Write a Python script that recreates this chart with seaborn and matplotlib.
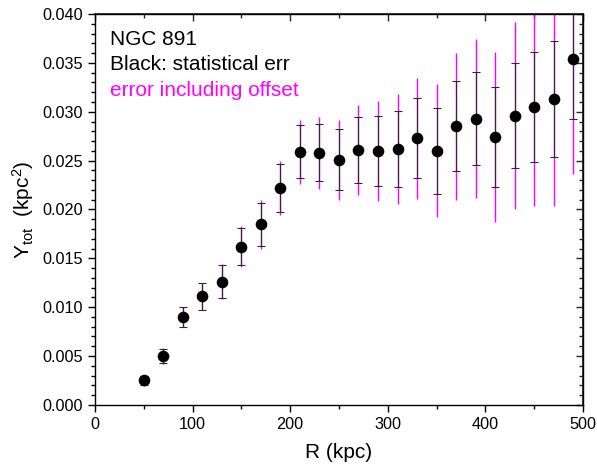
import numpy as np
import matplotlib
matplotlib.use('Agg')
import matplotlib.pyplot as plt
import seaborn as sns
from matplotlib.ticker import MultipleLocator, FormatStrFormatter

# -------------------------------------------------------------
# DATA  (NGC 891, Y_tot profile)
# -------------------------------------------------------------
r_kpc = [50, 70, 90, 110, 130, 150, 170, 190, 210, 230, 250, 270,
         290, 310, 330, 350, 370, 390, 410, 430, 450, 470, 490]
y_tot = [0.0025, 0.0050, 0.0090, 0.0111, 0.0126, 0.0162, 0.0185, 0.0222,
         0.0259, 0.0258, 0.0251, 0.0261, 0.0260, 0.0262, 0.0273, 0.0260,
         0.0285, 0.0293, 0.0274, 0.0296, 0.0305, 0.0313, 0.0354]
err_stat = [0.0005, 0.00075, 0.0010, 0.00135, 0.0017, 0.0019, 0.0022, 0.0025,
            0.0027, 0.0029, 0.0031, 0.0034, 0.0036, 0.0039, 0.0041, 0.0044,
            0.0046, 0.0048, 0.0051, 0.0054, 0.0056, 0.0059, 0.0061]
err_total = [0.00055, 0.0008, 0.00105, 0.0014, 0.0018, 0.0021, 0.0025, 0.0028,
             0.0033, 0.0037, 0.0041, 0.0046, 0.0051, 0.0056, 0.0062, 0.0068,
             0.0075, 0.0081, 0.0087, 0.0096, 0.0102, 0.0110, 0.0118]

# -------------------------------------------------------------
# VISUAL CONFIG
# -------------------------------------------------------------
sns.set_theme(style='ticks')
plt.rcParams['font.family'] = ['Liberation Sans', 'DejaVu Sans']
plt.rcParams['mathtext.default'] = 'regular'

fig = plt.figure(figsize=(5.97, 4.68), dpi=100)
ax = fig.add_axes([0.159, 0.135, 0.8175, 0.835])

# total error (magenta, behind)
ax.errorbar(r_kpc, y_tot, yerr=err_total, fmt='none', ecolor='#ff00ff',
            elinewidth=1.0, capsize=0, zorder=1)
# statistical error (black, with caps)
ax.errorbar(r_kpc, y_tot, yerr=err_stat, fmt='none', ecolor='#2a2a2a',
            elinewidth=0.8, capsize=3, capthick=0.8, zorder=2)
sns.scatterplot(x=r_kpc, y=y_tot, ax=ax, color='black', s=70,
                edgecolor='black', linewidth=0, zorder=3)

ax.set_xlim(0, 500)
ax.set_ylim(0, 0.040)
ax.xaxis.set_major_locator(MultipleLocator(100))
ax.xaxis.set_minor_locator(MultipleLocator(50))
ax.yaxis.set_major_locator(MultipleLocator(0.005))
ax.yaxis.set_minor_locator(MultipleLocator(0.001))
ax.yaxis.set_major_formatter(FormatStrFormatter('%.3f'))

for s in ax.spines.values():
    s.set_linewidth(1.0)
    s.set_color('black')

ax.tick_params(which='both', direction='out', top=False, right=False,
               labelsize=11.7, colors='black', width=1.0)
ax.tick_params(which='major', length=5)
ax.tick_params(which='minor', length=3)

# inward ticks on top and right, no labels
ax_t = ax.secondary_xaxis('top')
ax_t.xaxis.set_major_locator(MultipleLocator(100))
ax_t.xaxis.set_minor_locator(MultipleLocator(50))
ax_t.tick_params(which='both', direction='in', labeltop=False, width=1.0)
ax_t.tick_params(which='major', length=5)
ax_t.tick_params(which='minor', length=3)
ax_r = ax.secondary_yaxis('right')
ax_r.yaxis.set_major_locator(MultipleLocator(0.005))
ax_r.yaxis.set_minor_locator(MultipleLocator(0.001))
ax_r.tick_params(which='both', direction='in', labelright=False, width=1.0)
ax_r.tick_params(which='major', length=5)
ax_r.tick_params(which='minor', length=3)

ax.set_xlabel('R (kpc)', fontsize=15, color='black', labelpad=8)
ax.set_ylabel('Y$_{tot}$  (kpc$^{2}$)', fontsize=15, color='black', labelpad=5)

ax.text(0.031, 0.935, 'NGC 891', transform=ax.transAxes, fontsize=15,
        va='center', color='black')
ax.text(0.031, 0.870, 'Black: statistical err', transform=ax.transAxes,
        fontsize=15, va='center', color='black')
ax.text(0.031, 0.805, 'error including offset', transform=ax.transAxes,
        fontsize=15, va='center', color='#ff00ff')

plt.savefig('out.png', dpi=100)
